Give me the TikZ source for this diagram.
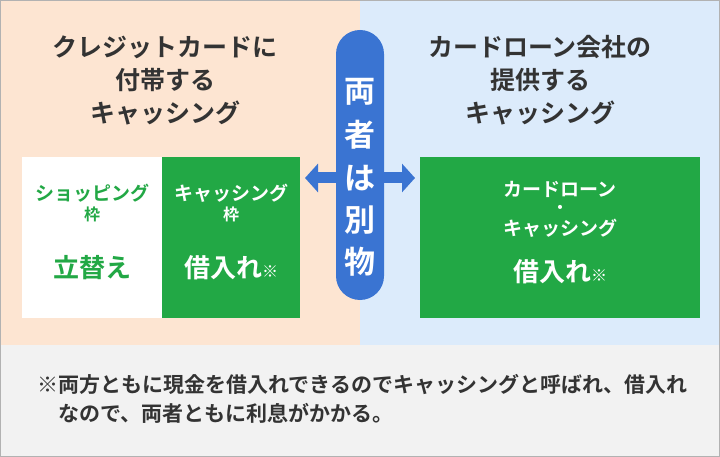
\documentclass[tikz,border=0pt]{standalone}
\usepackage{fontspec}
\setmainfont{Noto Sans CJK JP Bold}
\usetikzlibrary{arrows.meta,positioning}
\definecolor{peach}{HTML}{FDE5D2}
\definecolor{skyblue}{HTML}{DCEBFB}
\definecolor{note gray}{HTML}{F2F2F2}
\definecolor{kgreen}{HTML}{22A845}
\definecolor{pillblue}{HTML}{3A74D2}
\definecolor{ink}{HTML}{333333}
\tikzset{
  title/.style={text=ink, align=center, font=\fontsize{25}{33}\selectfont},
  boxtext/.style={align=center, font=\fontsize{19}{22}\selectfont},
  small/.style={font=\fontsize{16}{16}\selectfont},
  big/.style={font=\fontsize{26}{28}\selectfont},
  pilltext/.style={text=white, font=\fontsize{31}{33}\selectfont},
}
\begin{document}
\begin{tikzpicture}[x=1pt,y=-1pt]
  \useasboundingbox (0,0) rectangle (720,457);
  % panels
  \fill[peach] (0,0) rectangle (360,345);
  \fill[skyblue] (360,0) rectangle (720,345);
  \fill[note gray] (0,345) rectangle (720,457);
  \draw[gray!60, line width=1pt] (0.5,0.5) rectangle (719.5,456.5);
  % titles
  \node[title] (lt) at (165,80) {クレジットカードに\\付帯する\\キャッシング};
  \node[title] (rt) at (540,80) {カードローン会社の\\提供する\\キャッシング};
  % boxes
  \fill[white] (22,157) rectangle (162,318);
  \fill[kgreen] (162,157) rectangle (300,318);
  \fill[kgreen] (420,157) rectangle (700,318);
  \coordinate (lbox) at (305,178);
  \coordinate (rbox) at (415,178);
  % left boxes text
  \node[boxtext, text=kgreen] (shop) at (92,193) {ショッピング};
  \node[small, text=kgreen] (shopw) at (92,214) {枠};
  \node[big, text=kgreen] (tate) at (92,268) {立替え};
  \node[boxtext, text=white] (cash) at (231,193) {キャッシング};
  \node[small, text=white] (cashw) at (231,214) {枠};
  \node[big, text=white] (kari) at (231,268) {借入れ{\fontsize{16}{16}\selectfont ※}};
  % right box text
  \node[boxtext, text=white] (loan) at (560,189) {カードローン};
  \node[small, text=white] (dot) at (560,209) {・};
  \node[boxtext, text=white] (cash2) at (560,228) {キャッシング};
  \node[big, text=white] (kari2) at (560,272) {借入れ{\fontsize{16}{16}\selectfont ※}};
  % arrow and pill
  \draw[pillblue, line width=11pt, {Triangle[length=13pt,width=28pt]}-{Triangle[length=13pt,width=28pt]}] (lbox) -- (rbox);
  \fill[pillblue, rounded corners=24pt] (336,30) rectangle (384,300);
  \foreach \y/\ch in {92/両, 135/者, 178/は, 220/別, 262/物}
    \node[pilltext] (p\y) at (360,\y) {\ch};
  % note
  \node[text=ink, anchor=west, font=\fontsize{21}{22}\selectfont] (n1) at (34,385) {※両方ともに現金を借入れできるのでキャッシングと呼ばれ、借入れ};
  \node[text=ink, anchor=west, font=\fontsize{21}{22}\selectfont] (n2) at (55,413) {なので、両者ともに利息がかかる。};
\end{tikzpicture}
\end{document}
